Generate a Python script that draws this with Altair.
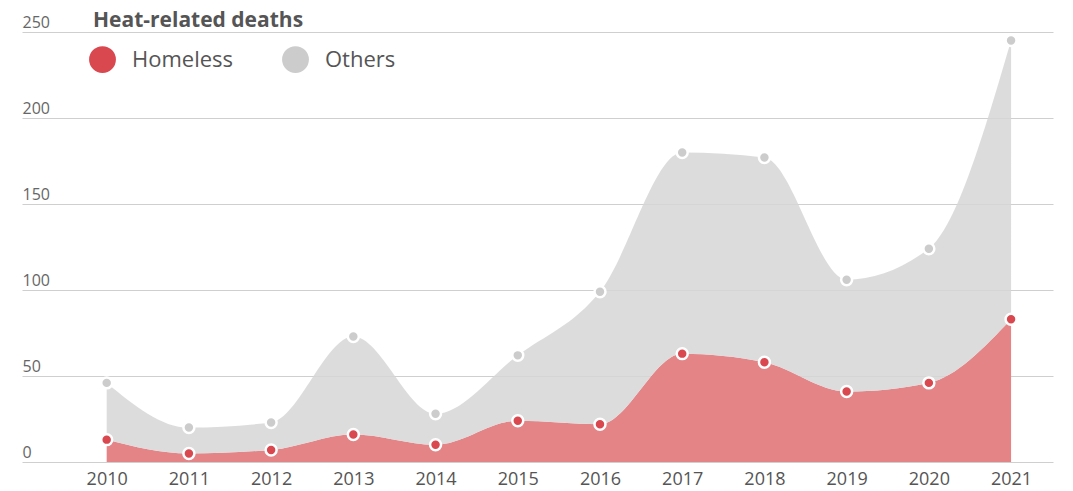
import altair as alt
import pandas as pd

years = [2010, 2011, 2012, 2013, 2014, 2015, 2016, 2017, 2018, 2019, 2020, 2021]
homeless = [13, 5, 7, 16, 10, 24, 22, 63, 58, 41, 46, 83]
total = [46, 20, 23, 73, 28, 62, 99, 180, 177, 106, 124, 245]
others = [t - h for t, h in zip(total, homeless)]
groups = ["Homeless", "Others"]
colors_area = ["#e48486", "#d6d6d6"]
colors_pt = ["#d9474f", "#cccccc"]
title_text = "Heat-related deaths"

rows = []
for y, h, o, t in zip(years, homeless, others, total):
    rows.append({"year": y, "group": "Homeless", "value": h, "top": h, "ord": 0})
    rows.append({"year": y, "group": "Others", "value": o, "top": t, "ord": 1})
df = pd.DataFrame(rows)

font = "Open Sans"
xscale = alt.Scale(domain=[2008.97, 2021.51], nice=False, zero=False)
yscale = alt.Scale(domain=[0, 250], nice=False)

base = alt.Chart(df)

area = base.mark_area(interpolate="monotone").encode(
    x=alt.X("year:Q", scale=xscale,
            axis=alt.Axis(values=years, format="d", title=None, grid=False, domain=False,
                          ticks=False, labelFontSize=18, labelColor="#555", labelFont=font,
                          labelPadding=8)),
    y=alt.Y("value:Q", stack="zero", scale=yscale,
            axis=alt.Axis(values=[0, 50, 100, 150, 200, 250], title=None, domain=False, ticks=False,
                          labelAlign="left", labelBaseline="bottom", labelPadding=0,
                          labelOffset=-2, labelFontSize=16, labelColor="#666", labelFont=font,
                          gridColor="#cfcfcf", gridWidth=1, tickSize=0)),
    fill=alt.Fill("group:N", scale=alt.Scale(domain=groups, range=colors_area), legend=None),
    opacity=alt.Opacity("group:N", scale=alt.Scale(domain=groups, range=[1.0, 0.85]), legend=None),
    order=alt.Order("ord:Q"),
)

points = base.mark_circle(size=120, opacity=1, stroke="white", strokeWidth=2.5).encode(
    x=alt.X("year:Q", scale=xscale),
    y=alt.Y("top:Q", scale=yscale),
    color=alt.Color("group:N", scale=alt.Scale(domain=groups, range=colors_pt),
                    legend=alt.Legend(title=None, orient="none", legendX=67, legendY=14,
                                      direction="horizontal", symbolType="circle",
                                      symbolSize=720, symbolStrokeWidth=0,
                                      labelFontSize=22, labelColor="#555",
                                      labelFont=font, labelOffset=16, columnPadding=48)),
    order=alt.Order("ord:Q", sort="descending"),
)

title = alt.Chart(alt.Data(values=[{"t": title_text}])).mark_text(
    align="left", baseline="alphabetic", fontSize=21, fontWeight="bold", color="#555", font=font
).encode(text="t:N", x=alt.value(71), y=alt.value(-5))

chart = alt.layer(area, points, title).resolve_scale(
    fill="independent", color="independent"
).properties(
    width=1031, height=430,
    padding={"left": 14, "top": 24, "right": 10, "bottom": 30},
    autosize=alt.AutoSizeParams(type="none"),
).configure_view(stroke=None)

chart.save("out.html", embed_options={"renderer": "svg", "actions": False})
